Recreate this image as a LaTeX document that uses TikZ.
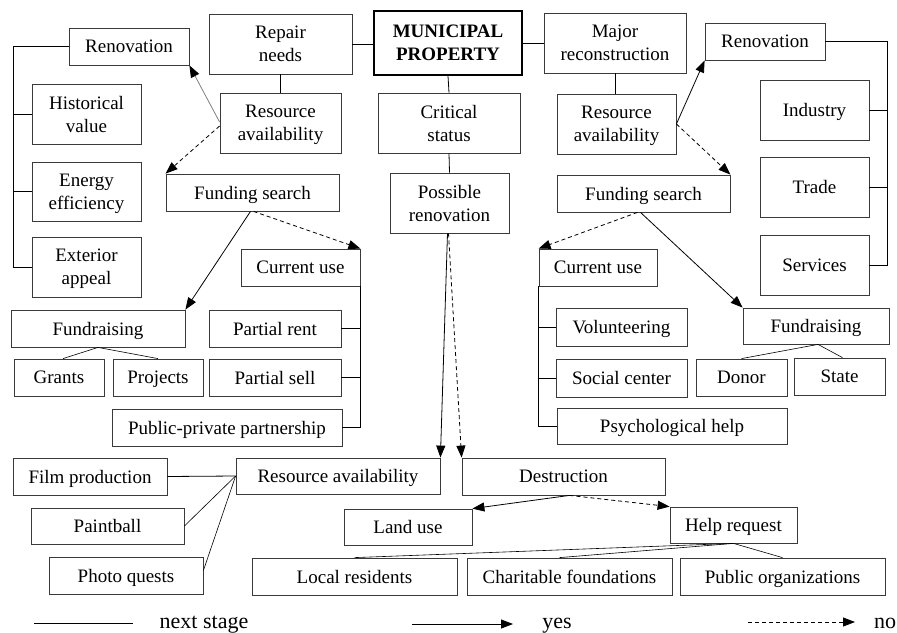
\documentclass[tikz,border=0pt]{standalone}
\usepackage{fontspec}
\setmainfont{Liberation Serif}
\usetikzlibrary{arrows.meta}
\definecolor{boxgray}{HTML}{3A3A3A}
\newcommand{\bx}[6]{%
  \pgfmathsetmacro\bxw{#4-#2}\pgfmathsetmacro\bxh{#5-#3}%
  \pgfmathsetmacro\bxx{(#2+#4)/2}\pgfmathsetmacro\bxy{(#3+#5)/2}%
  \node[box, minimum width=\bxw pt, minimum height=\bxh pt] (#1) at (\bxx,\bxy) {#6};}
\begin{document}
\begin{tikzpicture}[x=1pt,y=-1pt,
  box/.style={draw=boxgray, line width=0.8pt, inner sep=0pt, align=center,
    font=\fontsize{19}{23}\selectfont, text=black, text depth=0pt},
  ln/.style={line width=0.8pt, draw=black},
  yesarr/.style={ln, -{Triangle[length=12pt,width=9pt]}},
  noarr/.style={ln, dash pattern=on 4pt off 3pt, -{Triangle[length=12pt,width=9pt]}},
  grayarr/.style={line width=0.8pt, draw=gray, -{Triangle[length=12pt,width=9pt,color=black]}},
  legtext/.style={font=\fontsize{22}{24}\selectfont, inner sep=0pt}
]
\useasboundingbox (0,0) rectangle (897,632);

% left side
\bx{renL}{69}{28}{189}{65}{Renovation}
\bx{hist}{32}{84}{141}{144}{Historical\\value}
\bx{energy}{32}{162}{141}{221}{Energy\\efficiency}
\bx{ext}{32}{237}{141}{297}{Exterior\\appeal}
\bx{repair}{209}{14}{352}{74}{Repair\\needs}
\bx{resL}{220}{93}{341}{153}{Resource\\availability}
\bx{fsL}{166}{174}{339}{211}{Funding search}
\bx{cuL}{241}{249}{360}{286}{Current use}
\bx{frL}{11}{310}{185}{347}{Fundraising}
\bx{grants}{14}{359}{104}{396}{Grants}
\bx{projects}{113}{359}{203}{396}{Projects}
\bx{prent}{209}{310}{341}{347}{Partial rent}
\bx{psell}{209}{359}{341}{396}{Partial sell}
\bx{ppp}{112}{409}{342}{446}{Public-private partnership}

% centre
\node[box, draw=black, line width=2pt, font=\fontsize{19}{23}\selectfont\bfseries,
  minimum width=148pt, minimum height=64pt] (muni) at (448,43) {MUNICIPAL\\PROPERTY};
\bx{crit}{378}{93}{520}{153}{Critical\\status}
\bx{poss}{390}{173}{509}{233}{Possible\\renovation}

% right side
\bx{major}{544}{13}{686}{73}{Major\\reconstruction}
\bx{resR}{557}{94}{676}{154}{Resource\\availability}
\bx{fsR}{557}{175}{730}{212}{Funding search}
\bx{cuR}{539}{249}{657}{286}{Current use}
\bx{renR}{705}{23}{825}{60}{Renovation}
\bx{industry}{760}{80}{869}{140}{Industry}
\bx{trade}{760}{157}{869}{217}{Trade}
\bx{services}{760}{235}{869}{295}{Services}
\bx{vol}{556}{308}{687}{346}{Volunteering}
\bx{social}{556}{359}{687}{397}{Social center}
\bx{psych}{557}{408}{787}{444}{Psychological help}
\bx{frR}{743}{308}{889}{344}{Fundraising}
\bx{donor}{696}{359}{787}{396}{Donor}
\bx{state}{794}{358}{885}{395}{State}

% bottom
\bx{film}{13}{458}{167}{495}{Film production}
\bx{resB}{236}{458}{440}{494}{Resource availability}
\bx{paint}{31}{508}{184}{544}{Paintball}
\bx{photo}{49}{557}{203}{594}{Photo quests}
\bx{destr}{462}{458}{665}{495}{Destruction}
\bx{land}{344}{509}{472}{545}{Land use}
\bx{help}{670}{507}{797}{543}{Help request}
\bx{local}{252}{558}{457}{595}{Local residents}
\bx{charit}{467}{558}{672}{595}{Charitable foundations}
\bx{puborg}{680}{558}{885}{595}{Public organizations}

% plain connectors
\draw[ln] (repair.east) -- (muni.west |- repair.east);
\draw[ln] (muni.east) -- (major.west |- muni.east);
\draw[ln] (muni.south) -- (crit.north);
\draw[ln] (crit.south) -- (poss.north);
\draw[ln] (repair.south) -- (resL.north);
\draw[ln] (major.south) -- (major.south |- resR.north);

% left bracket
\draw[ln] (renL.west) -- (renL.west -| 13,0) -- (ext.west -| 13,0) -- (ext.west);
\draw[ln] (hist.west) -- (hist.west -| 13,0);
\draw[ln] (energy.west) -- (energy.west -| 13,0);
% right bracket
\draw[ln] (renR.east) -- (renR.east -| 887,0) -- (services.east -| 887,0) -- (services.east);
\draw[ln] (industry.east) -- (industry.east -| 887,0);
\draw[ln] (trade.east) -- (trade.east -| 887,0);
% current use brackets
\draw[ln] (cuL.south east) -- (cuL.south east |- ppp.east) -- (ppp.east);
\draw[ln] (prent.east) -- (prent.east -| cuL.east);
\draw[ln] (psell.east) -- (psell.east -| cuL.east);
\draw[ln] (cuR.south west) -- (cuR.south west |- psych.west) -- (psych.west);
\draw[ln] (vol.west) -- (vol.west -| cuR.west);
\draw[ln] (social.west) -- (social.west -| cuR.west);

% fundraising children
\draw[ln, line width=0.6pt] (frL.south) -- ([xshift=4pt]grants.north);
\draw[ln, line width=0.6pt] (frL.south) -- (projects.north);
\draw[ln, line width=0.6pt] ([xshift=2pt]frR.south) -- (donor.north);
\draw[ln, line width=0.6pt] ([xshift=2pt]frR.south) -- ([xshift=3pt]state.north);

% resource availability bottom children
\draw[ln] (film.east) -- (resB.west);
\draw[ln, line width=0.6pt] (resB.west) -- (paint.east);
\draw[ln, line width=0.6pt] (resB.west) -- ([yshift=5pt]photo.east);

% help request children
\draw[ln, line width=0.6pt] (help.south) -- (local.north);
\draw[ln, line width=0.6pt] (help.south) -- ([xshift=-10pt]charit.north);
\draw[ln, line width=0.6pt] (help.south) -- (puborg.north);

% decision arrows
\draw[grayarr] ([yshift=1pt]resL.west) -- (renL.south east);
\draw[noarr] ([yshift=-3pt]resL.west) -- (fsL.north west);
\draw[yesarr] ([xshift=-2pt]fsL.south) -- (frL.north east);
\draw[noarr] ([xshift=1pt]fsL.south) -- (cuL.north east);
\draw[yesarr] (resR.east) -- (renR.south west);
\draw[noarr] (resR.east) -- (fsR.north east);
\draw[noarr] ([xshift=-6pt]fsR.south) -- (cuR.north west);
\draw[yesarr] ([xshift=-3pt]fsR.south) -- (frR.north west);
\draw[yesarr] ([xshift=-2pt]poss.south) -- (resB.north east);
\draw[noarr] ([xshift=-1pt]poss.south) -- (destr.north west);
\draw[yesarr] ([xshift=6pt]destr.south) -- (land.north east);
\draw[noarr] ([xshift=6pt]destr.south) -- (help.north west);

% legend
\coordinate (l1a) at (34,623); \coordinate (l1b) at (133,623);
\coordinate (l2a) at (412,624); \coordinate (l2b) at (513,624);
\coordinate (l3a) at (748,622); \coordinate (l3b) at (855,622);
\draw[ln] (l1a) -- (l1b);
\draw[yesarr] (l2a) -- (l2b);
\draw[noarr] (l3a) -- (l3b);
\node[legtext, anchor=base] (t1) at (204,628) {next stage};
\node[legtext, anchor=base] (t2) at (557,628) {yes};
\node[legtext, anchor=base] (t3) at (885,628) {no};
\end{tikzpicture}
\end{document}
